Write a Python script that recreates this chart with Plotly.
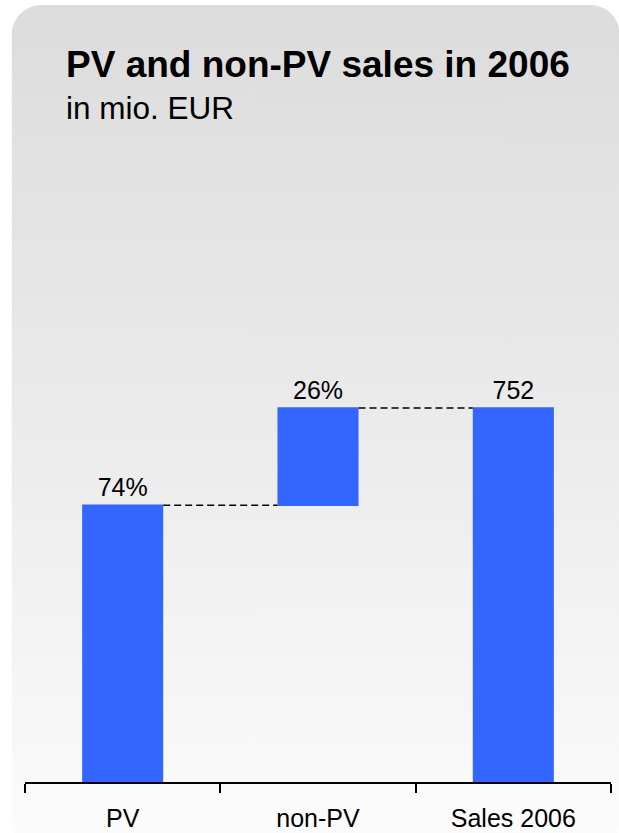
import base64
import plotly.graph_objects as go

# ---- data ----
categories = ["PV", "non-PV", "Sales 2006"]
values = [556.5, 195.5, 752]
measures = ["relative", "relative", "total"]
labels = ["74%", "26%", "752"]

title_text = "PV and non-PV sales in 2006"
subtitle_text = "in mio. EUR"

# ---- layout geometry ----
W, H = 619, 833
ml, mr, mb, mt = 24.5, 8, 51, 150
plot_w = W - ml - mr
plot_h = H - mt - mb
px_per_unit = (782 - 408) / 752.0
ymax = plot_h / px_per_unit

BAR = "#3366ff"
FONT = "Liberation Sans, Arial, sans-serif"

fig = go.Figure(go.Waterfall(
    x=categories,
    y=values,
    measure=measures,
    text=labels,
    textposition="outside",
    textfont=dict(size=25, color="#000000", family=FONT),
    cliponaxis=False,
    increasing=dict(marker=dict(color=BAR)),
    decreasing=dict(marker=dict(color=BAR)),
    totals=dict(marker=dict(color=BAR)),
    connector=dict(line=dict(color="#000000", width=1.6, dash="7px,4px")),
    width=0.415,
    hoverinfo="skip",
))

# gradient rounded background as an SVG image
svg = (
    '<svg xmlns="http://www.w3.org/2000/svg" width="609" height="845" viewBox="0 0 609 845">'
    '<defs><linearGradient id="g" x1="0" y1="0" x2="0" y2="1">'
    '<stop offset="0" stop-color="#dcdcdc"/>'
    '<stop offset="0.5" stop-color="#ebebeb"/>'
    '<stop offset="1" stop-color="#fcfcfc"/>'
    '</linearGradient></defs>'
    '<rect x="0" y="0" width="609" height="845" rx="30" ry="30" fill="url(#g)"/>'
    '</svg>'
)
src = "data:image/svg+xml;base64," + base64.b64encode(svg.encode()).decode()


def px_to_paper_x(px):
    return (px - ml) / plot_w


def px_to_paper_y(py):
    return (H - mb - py) / plot_h


fig.add_layout_image(
    source=src, xref="paper", yref="paper",
    x=px_to_paper_x(11), y=px_to_paper_y(5),
    sizex=609 / plot_w, sizey=845 / plot_h,
    xanchor="left", yanchor="top", sizing="stretch", layer="below",
)

fig.add_annotation(
    text="<b>" + title_text + "</b>", xref="paper", yref="paper",
    x=px_to_paper_x(64), y=px_to_paper_y(42), xanchor="left", yanchor="top",
    showarrow=False, font=dict(size=37, color="#000000", family=FONT),
)
fig.add_annotation(
    text=subtitle_text, xref="paper", yref="paper",
    x=px_to_paper_x(64), y=px_to_paper_y(88), xanchor="left", yanchor="top",
    showarrow=False, font=dict(size=31.5, color="#000000", family=FONT),
)

fig.update_layout(
    width=W, height=H,
    margin=dict(l=ml, r=mr, t=mt, b=mb, pad=0, autoexpand=False),
    paper_bgcolor="#ffffff",
    plot_bgcolor="rgba(0,0,0,0)",
    showlegend=False,
    font=dict(family=FONT, color="#000000"),
)
fig.update_xaxes(
    type="category", range=[-0.5, 2.5], automargin=False,
    showline=True, linecolor="#000000", linewidth=1.5,
    ticks="outside", tickson="boundaries", ticklen=9, tickwidth=1.5, tickcolor="#000000",
    tickfont=dict(size=25, color="#000000", family=FONT),
    ticklabelstandoff=13,
    showgrid=False, zeroline=False, fixedrange=True,
)
fig.update_yaxes(
    range=[0, ymax], visible=False, automargin=False,
    showgrid=False, zeroline=False, fixedrange=True,
)

fig.write_html("out.html", config={"displayModeBar": False})
